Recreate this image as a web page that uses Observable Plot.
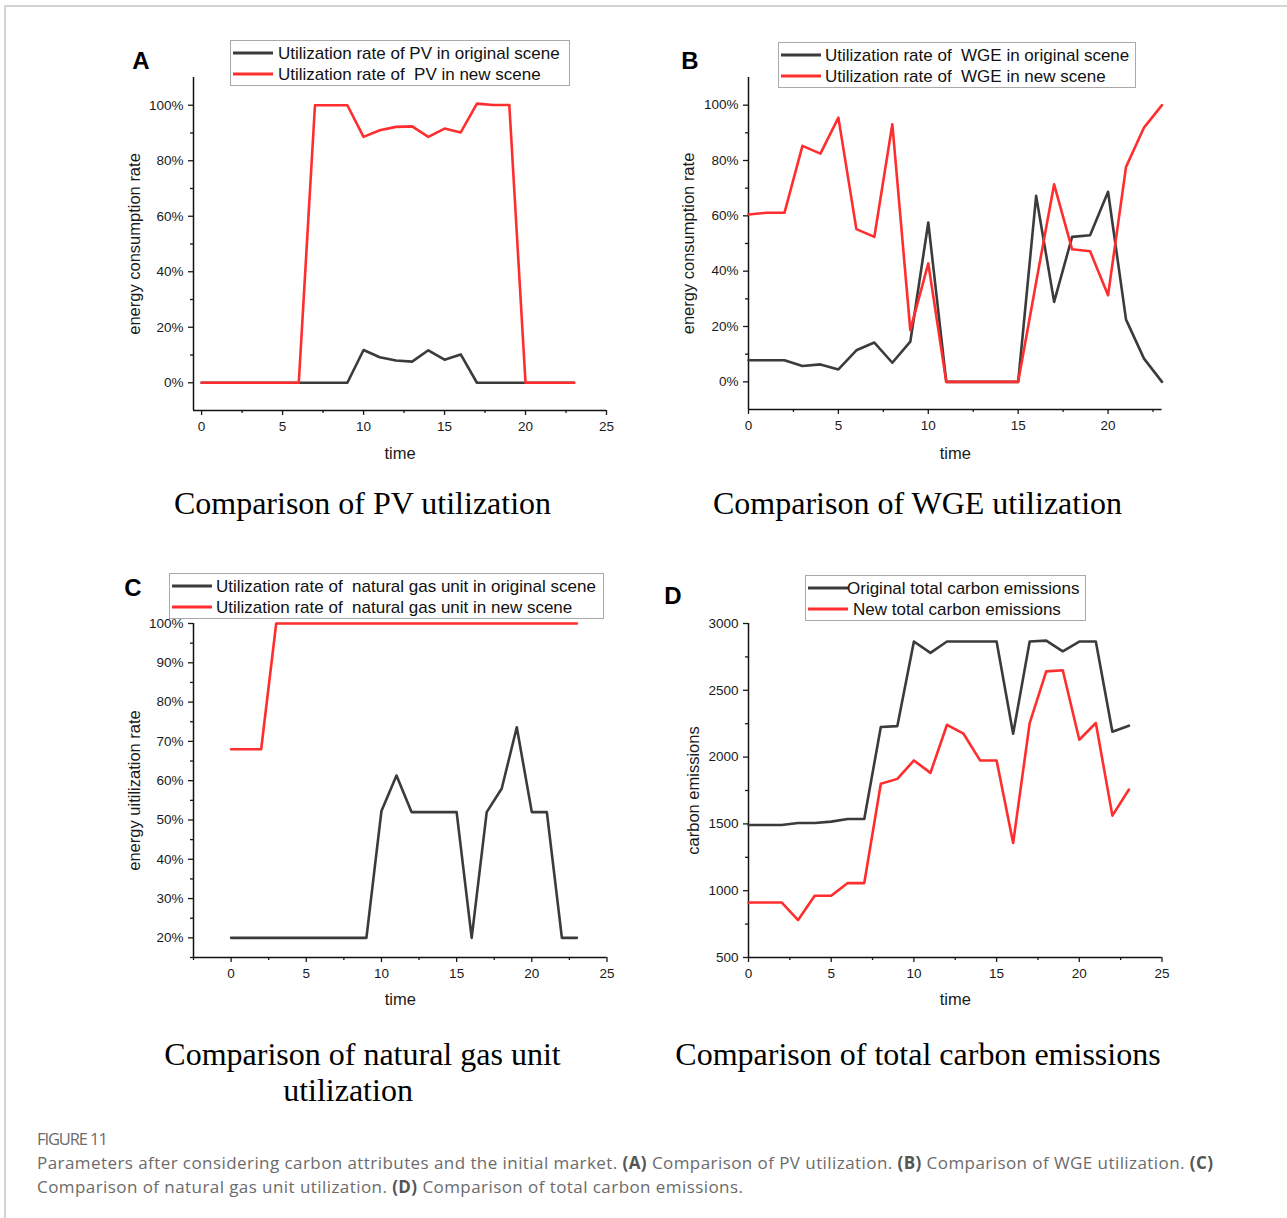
<!DOCTYPE html>
<html>
<head>
<meta charset="utf-8">
<script src="https://cdn.jsdelivr.net/npm/d3@7"></script>
<script src="https://cdn.jsdelivr.net/npm/@observablehq/plot@0.6"></script>
<style>
  body { margin: 0; background: #fff; }
  #page { position: relative; width: 1287px; height: 1218px; overflow: hidden; background: #fff;
          font-family: "Liberation Sans", Arial, sans-serif; color: #111; }
  #page svg { position: absolute; overflow: visible; }
  #page svg [aria-label$="tick label"] { font-size: 13.5px; }
  .border-top { position: absolute; left: 4px; top: 5px; width: 1290px; height: 2px; background: #d4d4d4; }
  .border-left { position: absolute; left: 4px; top: 5px; width: 2px; height: 1220px; background: #d4d4d4; }
  .letter { position: absolute; font-weight: bold; font-size: 24px; line-height: 1; transform: translate(-50%, -50%); color: #000; }
  .title { position: absolute; font-family: "Liberation Serif", "Times New Roman", serif; font-size: 32px; line-height: 1;
           white-space: nowrap; transform: translate(-50%, -50%); color: #000; }
  .legend { position: absolute; border: 1px solid #a9a9a9; background: #fff; box-sizing: border-box; }
  .legend .swatch { position: absolute; height: 3px; transform: translateY(-50%); }
  .legend .lab { position: absolute; font-size: 17px; line-height: 1; white-space: pre; transform: translateY(-50%); color: #111; }
  .caption { position: absolute; left: 37px; font-family: "Open Sans", "Noto Sans", sans-serif; color: #6b6b6b; white-space: nowrap; }
  .caption b { color: #555; font-weight: 700; }
</style>
</head>
<body>
<div id="page">
  <div class="border-top"></div>
  <div class="border-left"></div>
</div>
<script>
// ---------------- data ----------------
const time = [0,1,2,3,4,5,6,7,8,9,10,11,12,13,14,15,16,17,18,19,20,21,22,23];

// (A) PV utilization, %
const pvOriginal = [0,0,0,0,0,0,0,0,0,0,11.8,9.2,8.0,7.6,11.7,8.3,10.2,0,0,0,0,0,0,0];
const pvNew      = [0,0,0,0,0,0,0,100,100,100,88.6,91.0,92.2,92.4,88.6,91.6,90.2,100.6,100.1,100.1,0,0,0,0];

// (B) WGE utilization, %
const wgeOriginal = [7.8,7.8,7.8,5.7,6.3,4.5,11.4,14.2,6.9,14.5,57.6,0,0,0,0,0,67.2,28.9,52.4,53.0,68.7,22.5,8.4,0];
const wgeNew      = [60.5,61.1,61.1,85.3,82.5,95.5,55.2,52.4,93.1,18.7,42.8,0,0,0,0,0,36,71.4,47.9,47.2,31.3,77.7,91.9,100];

// (C) natural gas unit utilization, %
const gasOriginal = [20,20,20,20,20,20,20,20,20,20,52.3,61.3,52,52,52,52,20,52,58,73.6,52,52,20,20];
const gasNew      = [68,68,68,100,100,100,100,100,100,100,100,100,100,100,100,100,100,100,100,100,100,100,100,100];

// (D) total carbon emissions
const carbonOriginal = [1492,1492,1492,1507,1507,1517,1537,1537,2225,2232,2865,2780,2865,2865,2865,2865,2175,2865,2872,2792,2865,2865,2190,2235];
const carbonNew      = [912,912,912,780,962,962,1057,1057,1800,1837,1975,1882,2242,2175,1975,1975,1357,2255,2642,2650,2130,2255,1562,1757];

// ticks
const xMajor = [0,5,10,15,20,25];
const xMinor = [-2.5,2.5,7.5,12.5,17.5,22.5];
const pctMajorAB = [0,20,40,60,80,100];
const pctMinorAB = [10,30,50,70,90];
const pctMajorC = [20,30,40,50,60,70,80,90,100];
const pctMinorC = [15,25,35,45,55,65,75,85,95];
const carbonMajor = [500,1000,1500,2000,2500,3000];
const carbonMinor = [750,1250,1750,2250,2750];

const BLACK = "#3b3b3b";
const RED = "#ff2e2e";

// ---------------- layout ----------------
const page = document.getElementById("page");

function rows(vals) { return time.map((t, i) => ({t, v: vals[i]})); }

function panel(cfg) {
  const {l, r, t, b} = cfg.frame;
  const padL = 100, padR = 40, padT = 40, padB = 70;
  const [x0, x1] = cfg.xDomain;
  const xM = xMajor.filter(d => d >= x0 && d <= x1);
  const xm = xMinor.filter(d => d >= x0 && d <= x1);
  const svg = Plot.plot({
    width: (r - l) + padL + padR,
    height: (b - t) + padT + padB,
    marginLeft: padL, marginRight: padR, marginTop: padT, marginBottom: padB,
    x: {domain: cfg.xDomain},
    y: {domain: cfg.yDomain},
    style: {fontFamily: "'Liberation Sans', Arial, sans-serif", fontSize: "13.5px", color: "#1a1a1a", background: "transparent", overflow: "visible"},
    marks: [
      Plot.axisX({ticks: xM, tickSize: 5, tickPadding: 6, tickFormat: d => String(d), label: null, fontSize: 13.5, strokeWidth: 1.3}),
      Plot.axisX({ticks: xm, tickSize: 3, tickFormat: () => "", label: null, strokeWidth: 1.3}),
      Plot.axisY({ticks: cfg.yMajor, tickSize: 5, tickPadding: 5, tickFormat: cfg.yFormat, label: null, fontSize: 13.5, strokeWidth: 1.3}),
      Plot.axisY({ticks: cfg.yMinor, tickSize: 3, tickFormat: () => "", label: null, strokeWidth: 1.3}),
      Plot.ruleX([x0], {stroke: "#111", strokeWidth: 1.5}),
      Plot.ruleY([cfg.yDomain[0]], {stroke: "#111", strokeWidth: 1.5}),
      Plot.line(rows(cfg.black), {x: "t", y: "v", stroke: BLACK, strokeWidth: 2.6}),
      Plot.line(rows(cfg.red), {x: "t", y: "v", stroke: RED, strokeWidth: 2.6}),
      Plot.text(["time"], {frameAnchor: "bottom", dy: cfg.xLabelDy, textAnchor: "middle", lineAnchor: "middle", fontSize: 16.5, fill: "#1a1a1a"}),
      Plot.text([cfg.yLabel], {frameAnchor: "left", rotate: -90, dx: cfg.yLabelDx, textAnchor: "middle", lineAnchor: "middle", fontSize: 16.5, fill: "#1a1a1a"})
    ]
  });
  svg.style.left = (l - padL) + "px";
  svg.style.top = (t - padT) + "px";
  page.appendChild(svg);
}

function legend(cfg) {
  const box = document.createElement("div");
  box.className = "legend";
  Object.assign(box.style, {left: cfg.x + "px", top: cfg.y + "px", width: cfg.w + "px", height: cfg.h + "px"});
  cfg.items.forEach((it, i) => {
    const cy = cfg.rowY[i] - cfg.y;
    const sw = document.createElement("div");
    sw.className = "swatch";
    Object.assign(sw.style, {left: (cfg.swX - cfg.x) + "px", width: cfg.swW + "px", top: cy + "px", background: it.color});
    box.appendChild(sw);
    const tx = document.createElement("div");
    tx.className = "lab";
    tx.textContent = it.label;
    Object.assign(tx.style, {left: (it.textX - cfg.x) + "px", top: cy + "px"});
    box.appendChild(tx);
  });
  page.appendChild(box);
}

function textAt(cls, str, x, y) {
  const d = document.createElement("div");
  d.className = cls;
  d.textContent = str;
  d.style.left = x + "px";
  d.style.top = y + "px";
  page.appendChild(d);
}

// (A)
panel({frame: {l: 193, r: 606, t: 77, b: 410}, xDomain: [-0.5, 25], yDomain: [-10, 110],
  yMajor: pctMajorAB, yMinor: pctMinorAB, yFormat: d => d + "%",
  black: pvOriginal, red: pvNew, yLabel: "energy consumption rate", yLabelDx: -59, xLabelDy: 43});
// (B)
panel({frame: {l: 748, r: 1161.5, t: 77, b: 409}, xDomain: [0, 23], yDomain: [-10, 110],
  yMajor: pctMajorAB, yMinor: pctMinorAB, yFormat: d => d + "%",
  black: wgeOriginal, red: wgeNew, yLabel: "energy consumption rate", yLabelDx: -60, xLabelDy: 44});
// (C)
panel({frame: {l: 193, r: 606.5, t: 623, b: 957}, xDomain: [-2.5, 25], yDomain: [15, 100],
  yMajor: pctMajorC, yMinor: pctMinorC, yFormat: d => d + "%",
  black: gasOriginal, red: gasNew, yLabel: "energy uitilization rate", yLabelDx: -59, xLabelDy: 42});
// (D)
panel({frame: {l: 748, r: 1161.5, t: 623, b: 957}, xDomain: [0, 25], yDomain: [500, 3000],
  yMajor: carbonMajor, yMinor: carbonMinor, yFormat: d => String(d),
  black: carbonOriginal, red: carbonNew, yLabel: "carbon emissions", yLabelDx: -55, xLabelDy: 42});

// legends
legend({x: 230, y: 40, w: 340, h: 46, swX: 232, swW: 40, rowY: [52, 73], items: [
  {color: BLACK, label: "Utilization rate of PV in original scene", textX: 277},
  {color: RED, label: "Utilization rate of  PV in new scene", textX: 277}]});
legend({x: 778, y: 42, w: 358, h: 46, swX: 780, swW: 40, rowY: [54, 75], items: [
  {color: BLACK, label: "Utilization rate of  WGE in original scene", textX: 824},
  {color: RED, label: "Utilization rate of  WGE in new scene", textX: 824}]});
legend({x: 169, y: 573, w: 435, h: 46, swX: 171, swW: 40, rowY: [585, 606], items: [
  {color: BLACK, label: "Utilization rate of  natural gas unit in original scene", textX: 215},
  {color: RED, label: "Utilization rate of  natural gas unit in new scene", textX: 215}]});
legend({x: 805, y: 575, w: 281, h: 46, swX: 807, swW: 40, rowY: [587, 608], items: [
  {color: BLACK, label: "Original total carbon emissions", textX: 846},
  {color: RED, label: "New total carbon emissions", textX: 852}]});

// panel letters
textAt("letter", "A", 141, 61);
textAt("letter", "B", 690, 61);
textAt("letter", "C", 133, 588);
textAt("letter", "D", 673, 596);

// panel titles
textAt("title", "Comparison of PV utilization", 362.5, 503);
textAt("title", "Comparison of WGE utilization", 917.5, 503);
textAt("title", "Comparison of natural gas unit", 362.5, 1054);
textAt("title", "utilization", 348, 1090);
textAt("title", "Comparison of total carbon emissions", 918, 1054);

// caption
const cap1 = document.createElement("div");
cap1.className = "caption";
cap1.style.top = "1127px";
cap1.style.fontSize = "16.5px";
cap1.style.fontWeight = "500";
cap1.style.letterSpacing = "-1.1px";
cap1.textContent = "FIGURE 11";
page.appendChild(cap1);

const cap2 = document.createElement("div");
cap2.className = "caption";
cap2.style.top = "1151px";
cap2.style.fontSize = "17px";
cap2.style.letterSpacing = "0.43px";
cap2.style.lineHeight = "24px";
cap2.innerHTML = "Parameters after considering carbon attributes and the initial market. <b>(A)</b> Comparison of PV utilization. <b>(B)</b> Comparison of WGE utilization. <b>(C)</b><br>Comparison of natural gas unit utilization. <b>(D)</b> Comparison of total carbon emissions.";
page.appendChild(cap2);
</script>
</body>
</html>
